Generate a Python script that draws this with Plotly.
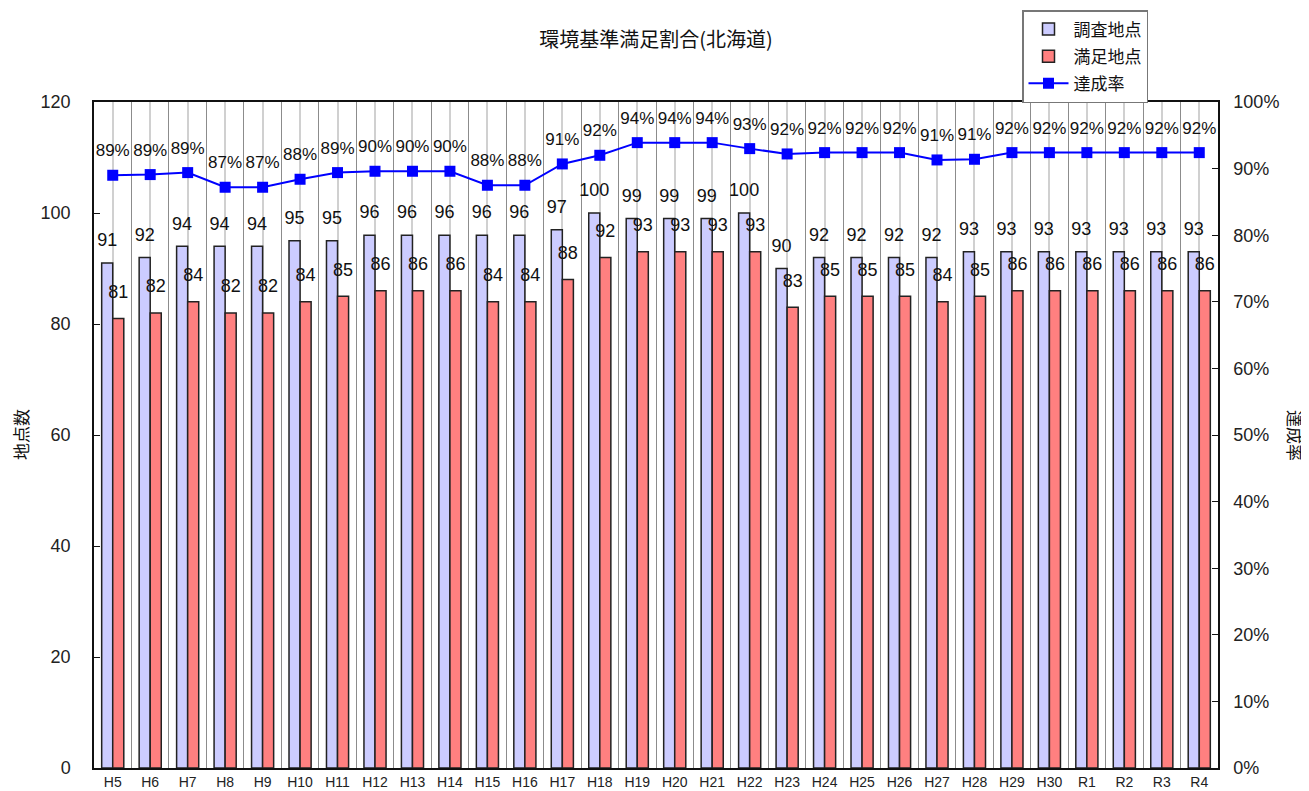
import plotly.graph_objects as go

categories = ["H5", "H6", "H7", "H8", "H9", "H10", "H11", "H12", "H13", "H14",
              "H15", "H16", "H17", "H18", "H19", "H20", "H21", "H22", "H23", "H24",
              "H25", "H26", "H27", "H28", "H29", "H30", "R1", "R2", "R3", "R4"]
surveyed = [91, 92, 94, 94, 94, 95, 95, 96, 96, 96, 96, 96, 97, 100, 99, 99, 99, 100, 90, 92,
            92, 92, 92, 93, 93, 93, 93, 93, 93, 93]
satisfied = [81, 82, 84, 82, 82, 84, 85, 86, 86, 86, 84, 84, 88, 92, 93, 93, 93, 93, 83, 85,
             85, 85, 84, 85, 86, 86, 86, 86, 86, 86]
rate = [89.0, 89.1, 89.4, 87.2, 87.2, 88.4, 89.4, 89.6, 89.6, 89.6, 87.5, 87.5, 90.7, 92.0, 93.9,
        93.9, 93.9, 93.0, 92.2, 92.4, 92.4, 92.4, 91.3, 91.4, 92.4, 92.4, 92.4, 92.4, 92.4, 92.4]

FONT = "Liberation Sans, Noto Sans CJK JP, sans-serif"
JP = "Noto Sans CJK JP"
idx = list(range(len(categories)))
xrange_ = [-0.5, len(categories) - 0.5]

# page body has an 8px margin; figure is sized and offset to compensate
W, H, OFF = 1301, 783, 8

fig = go.Figure()
fig.add_trace(go.Bar(
    x=idx, y=surveyed, name="調査地点", legendgroup="a", offsetgroup="s",
    marker=dict(color="#CCCCFF", line=dict(color="#222222", width=1.5)),
))
fig.add_trace(go.Bar(
    x=idx, y=satisfied, name="満足地点", legendgroup="b", offsetgroup="t",
    marker=dict(color="#FF8080", line=dict(color="#222222", width=1.5)),
))
# value labels above bars (grouped scatter, invisible markers set the offset)
fig.add_trace(go.Scatter(
    x=idx, y=surveyed, offsetgroup="s", showlegend=False, hoverinfo="skip",
    mode="markers+text", marker=dict(size=18, color="rgba(0,0,0,0)"),
    text=surveyed, textposition="top center", cliponaxis=False,
    textfont=dict(size=18, color="#111111", family=FONT),
))
fig.add_trace(go.Scatter(
    x=idx, y=satisfied, offsetgroup="t", showlegend=False, hoverinfo="skip",
    mode="markers+text", marker=dict(size=24, color="rgba(0,0,0,0)"),
    text=satisfied, textposition="top center", cliponaxis=False,
    textfont=dict(size=18, color="#111111", family=FONT),
))
fig.add_trace(go.Scatter(
    x=idx, y=rate, name="達成率", xaxis="x2", yaxis="y2", legendgroup="c", offsetgroup="r",
    mode="lines+markers",
    line=dict(color="#0000FF", width=2),
    marker=dict(symbol="square", size=11, color="#0000FF"),
    cliponaxis=False,
))
fig.add_trace(go.Scatter(
    x=idx, y=rate, xaxis="x2", yaxis="y2", showlegend=False, hoverinfo="skip", offsetgroup="r",
    mode="markers+text",
    marker=dict(symbol="square", size=22, color="rgba(0,0,0,0)"),
    texttemplate="%{y:.0f}%", textposition="top center",
    textfont=dict(size=17, color="#111111", family=FONT),
    cliponaxis=False,
))

fig.update_layout(
    width=W, height=H,
    margin=dict(l=94 - OFF, r=91, t=102 - OFF, b=23, autoexpand=False),
    paper_bgcolor="white", plot_bgcolor="white",
    barmode="group", bargap=0.41, bargroupgap=0,
    scattermode="group", scattergap=0.41,
    font=dict(family=FONT, color="#111111"),
    title=dict(text="環境基準満足割合(北海道)", x=0.5, xref="paper", xanchor="center",
               y=1 - (40 - OFF) / H, yref="container", yanchor="middle",
               font=dict(size=20, family=JP)),
    xaxis=dict(
        tickmode="array", tickvals=idx, ticktext=categories,
        range=xrange_,
        showgrid=True, gridcolor="#D0D0D0", gridwidth=1.5,
        minor=dict(tickmode="linear", tick0=0.5, dtick=1, showgrid=True,
                   gridcolor="#8C8C8C", gridwidth=1.2, ticks=""),
        ticks="", showline=True, linecolor="#111111", linewidth=1.5, mirror=True,
        tickfont=dict(size=14, color="#222222"), zeroline=False,
    ),
    xaxis2=dict(overlaying="x", range=xrange_, visible=False),
    yaxis=dict(
        range=[0, 120], dtick=20, showgrid=False, zeroline=False,
        ticks="inside", ticklen=6, tickcolor="#111111",
        showline=True, linecolor="#111111", linewidth=1.5,
        tickfont=dict(size=18, color="#222222"), ticklabelstandoff=18,
    ),
    yaxis2=dict(
        range=[0, 100], dtick=10, ticksuffix="%", overlaying="y", side="right",
        showgrid=False, zeroline=False,
        ticks="inside", ticklen=6, tickcolor="#111111",
        showline=True, linecolor="#111111", linewidth=1.5,
        tickfont=dict(size=18, color="#222222"), ticklabelstandoff=10,
    ),
    legend=dict(
        x=(1022 - 94) / 1124, y=(768 - 10) / 666, xanchor="left", yanchor="top",
        bordercolor="#777777", borderwidth=1.5, bgcolor="white",
        font=dict(size=17, family=JP),
        traceorder="grouped", tracegroupgap=2, itemwidth=40,
    ),
    annotations=[
        dict(text="地点数", xref="paper", yref="paper", x=(20 - 94) / 1124, y=0.5,
             xanchor="center", yanchor="middle",
             showarrow=False, textangle=-90, font=dict(size=17, family=JP)),
        dict(text="達成率", xref="paper", yref="paper", x=(1296 - 94) / 1124, y=0.5,
             xanchor="center", yanchor="middle",
             showarrow=False, textangle=90, font=dict(size=17, family=JP)),
    ],
)

fig.write_html("out.html")
